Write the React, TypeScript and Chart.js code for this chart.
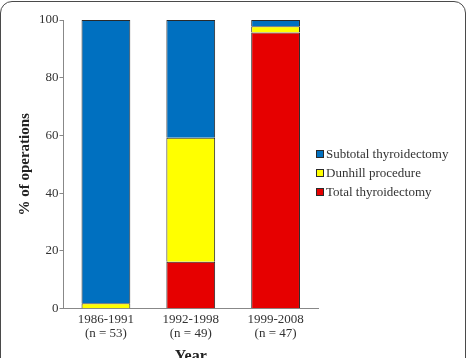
import React, { useEffect, useRef } from "react";
import { Chart, registerables } from "chart.js";

Chart.register(...registerables);

const categories: string[][] = [
  ["1986-1991", "(n = 53)"],
  ["1992-1998", "(n = 49)"],
  ["1999-2008", "(n = 47)"],
];
const totalThyroidectomy = [0, 16.3, 95.7];
const dunhillProcedure = [1.9, 42.9, 2.1];
const subtotalThyroidectomy = [98.1, 40.8, 2.2];
const yTicks = [0, 20, 40, 60, 80, 100];

const seriesLabels = ["Total thyroidectomy", "Dunhill procedure", "Subtotal thyroidectomy"];
const seriesColors = ["#E60000", "#FFFF00", "#0070C0"];

const FONT = "'Liberation Serif', 'Times New Roman', serif";

export default function App() {
  const ref = useRef<HTMLCanvasElement | null>(null);

  useEffect(() => {
    if (!ref.current) return;
    const values = [totalThyroidectomy, dunhillProcedure, subtotalThyroidectomy];
    const chart = new Chart(ref.current, {
      type: "bar",
      data: {
        labels: categories,
        datasets: values.map((v, i) => ({
          label: seriesLabels[i],
          data: v,
          backgroundColor: seriesColors[i],
          borderColor: "#2a2a2a",
          borderWidth: (ctx: any) => (ctx.raw === 0 ? 0 : 1),
          categoryPercentage: 1,
          barPercentage: 0.575,
        })),
      },
      options: {
        animation: false,
        responsive: false,
        maintainAspectRatio: false,
        layout: { padding: { left: 12, right: 12, top: 20, bottom: 4 } },
        plugins: { legend: { display: false }, tooltip: { enabled: false } },
        scales: {
          x: {
            stacked: true,
            grid: { display: false },
            border: { display: true, color: "#888", width: 1 },
            ticks: {
              padding: -4,
              color: "#333",
              font: { family: FONT, size: 13, lineHeight: 1.08 },
            },
            title: {
              display: true,
              text: "Year",
              color: "#222",
              padding: { top: 10, bottom: 0 },
              font: { family: FONT, size: 16, weight: "bold" },
            },
          },
          y: {
            stacked: true,
            min: 0,
            max: 100,
            afterBuildTicks: (axis: any) => {
              axis.ticks = yTicks.map((v) => ({ value: v }));
            },
            grid: {
              display: true,
              drawOnChartArea: false,
              drawTicks: true,
              tickLength: 4,
              color: "#888",
            },
            border: { display: true, color: "#888", width: 1 },
            ticks: {
              padding: 1,
              color: "#333",
              font: { family: FONT, size: 13 },
            },
            title: {
              display: true,
              text: "% of operations",
              color: "#222",
              padding: { top: 4, bottom: 4 },
              font: { family: FONT, size: 15, weight: "bold" },
            },
          },
        },
      },
    });
    return () => chart.destroy();
  }, []);

  const legendOrder = [2, 1, 0];

  return (
    <div
      style={{
        position: "fixed",
        left: 0,
        top: 0,
        width: 469,
        height: 358,
        overflow: "hidden",
        background: "#fff",
      }}
    >
      <div
        style={{
          position: "absolute",
          left: 0,
          top: 1,
          width: 464,
          height: 400,
          border: "1.5px solid #4a4a4a",
          borderRadius: 12,
        }}
      />
      <canvas
        ref={ref}
        width={330}
        height={370}
        style={{ position: "absolute", left: 0, top: 0, width: 330, height: 370 }}
      />
      {legendOrder.map((idx, row) => (
        <div
          key={idx}
          style={{
            position: "absolute",
            left: 316,
            top: 154 + row * 19 - 9,
            height: 18,
            display: "flex",
            alignItems: "center",
            fontFamily: FONT,
            fontSize: 13,
            color: "#333",
            whiteSpace: "nowrap",
          }}
        >
          <span
            style={{
              display: "inline-block",
              width: 6,
              height: 6,
              background: seriesColors[idx],
              border: "1px solid #2a2a2a",
              marginRight: 2,
            }}
          />
          <span>{seriesLabels[idx]}</span>
        </div>
      ))}
    </div>
  );
}
